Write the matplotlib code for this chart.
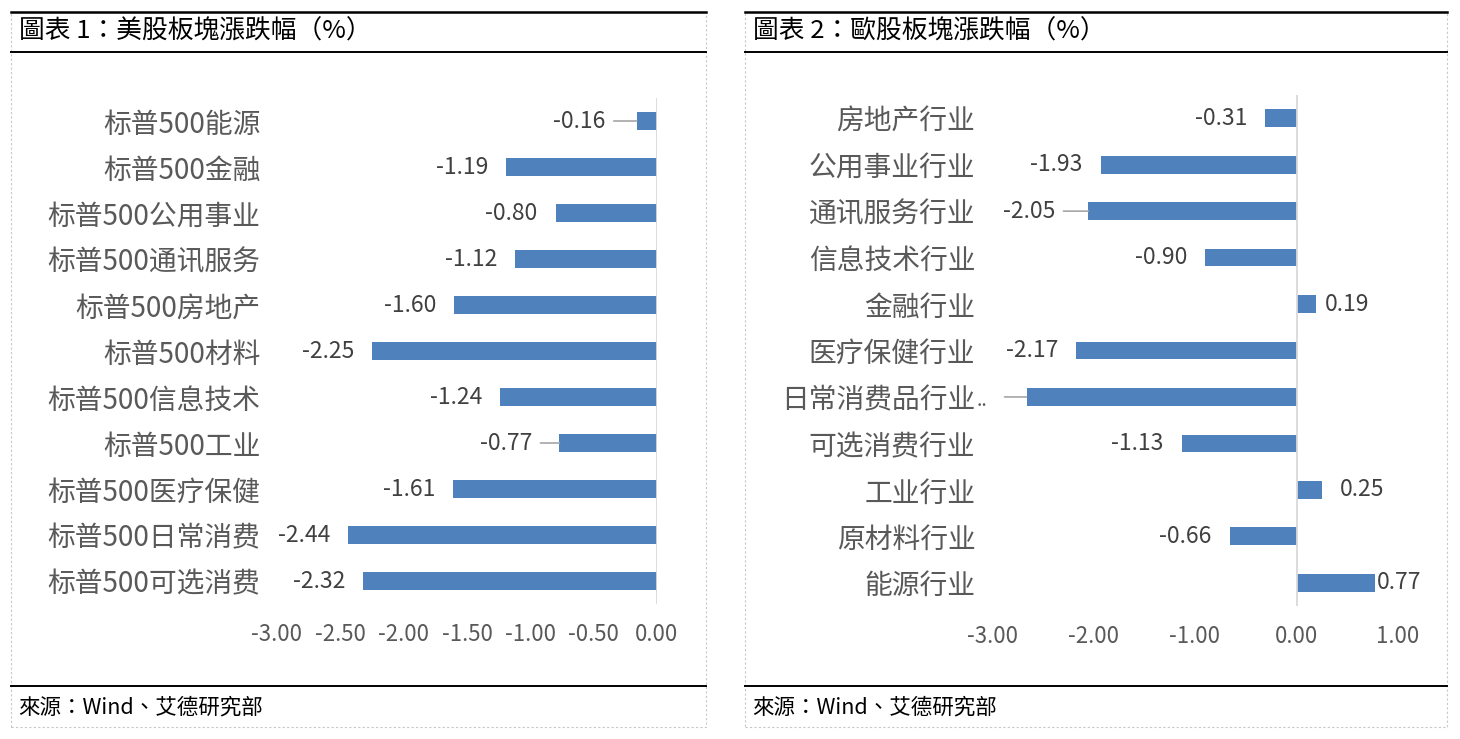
import matplotlib
matplotlib.use('Agg')
import matplotlib.pyplot as plt
from matplotlib.patches import Rectangle
from matplotlib.lines import Line2D

plt.rcParams['font.family'] = ['Noto Sans CJK SC', 'DejaVu Sans']

# data
us_cats = ['标普500能源', '标普500金融', '标普500公用事业', '标普500通讯服务', '标普500房地产',
           '标普500材料', '标普500信息技术', '标普500工业', '标普500医疗保健', '标普500日常消费',
           '标普500可选消费']
us_vals = [-0.16, -1.19, -0.80, -1.12, -1.60, -2.25, -1.24, -0.77, -1.61, -2.44, -2.32]
us_ticks = [-3.0, -2.5, -2.0, -1.5, -1.0, -0.5, 0.0]

eu_cats = ['房地产行业', '公用事业行业', '通讯服务行业', '信息技术行业', '金融行业', '医疗保健行业',
           '日常消费品行业', '可选消费行业', '工业行业', '原材料行业', '能源行业']
eu_vals = [-0.31, -1.93, -2.05, -0.90, 0.19, -2.17, -2.66, -1.13, 0.25, -0.66, 0.77]
eu_ticks = [-3.0, -2.0, -1.0, 0.0, 1.0]

titles = ['圖表 1：美股板塊漲跌幅（%）', '圖表 2：歐股板塊漲跌幅（%）']
source = '來源：Wind、艾德研究部'

W, H = 1460, 739
BAR = '#4f81bd'
fig = plt.figure(figsize=(W / 100, H / 100), dpi=100)


def fx(px):
    return px / W


def fy(py):
    return 1 - py / H


def panel_frame(x0, x1, title):
    # dashed outer border
    fig.add_artist(Rectangle((fx(x0), fy(727)), fx(x1 - x0), (727 - 12) / H,
                             transform=fig.transFigure, fill=False,
                             edgecolor='#c8c8c8', linestyle=(0, (2, 2)), linewidth=0.8))
    # solid rules
    for y, lw in [(12, 1.8), (52, 1.4), (686, 1.4)]:
        fig.add_artist(Line2D([fx(x0), fx(x1)], [fy(y), fy(y)], transform=fig.transFigure,
                              color='black', linewidth=lw))
    fig.text(fx(x0 + 8), fy(32), title, fontsize=18.5, family=['Noto Sans CJK TC', 'DejaVu Sans'],
             va='center', ha='left', color='black')
    fig.text(fx(x0 + 7), fy(707), source, fontsize=15.5, family=['Noto Sans CJK TC', 'DejaVu Sans'],
             va='center', ha='left', color='black')


def bar_panel(box, cats, vals, ticks, xlim, gaps, leaders, hidden, height):
    left, top, right, bottom = box
    ax = fig.add_axes([fx(left), fy(bottom), fx(right - left), (bottom - top) / H])
    y = list(range(len(cats)))
    ax.barh(y, vals, height=height, color=BAR, zorder=2)
    ax.set_ylim(len(cats) - 0.5, -0.5)
    ax.set_xlim(*xlim)
    ax.axvline(0, color='#d9d9d9', linewidth=1.3, zorder=3)
    for s in ax.spines.values():
        s.set_visible(False)
    ax.set_yticks(y)
    ax.set_yticklabels(cats, fontsize=20, color='#595959')
    ax.set_xticks(ticks)
    ax.set_xticklabels([f'{t:.2f}' for t in ticks], fontsize=16, color='#595959')
    ax.tick_params(axis='y', length=0, pad=12)
    ax.tick_params(axis='x', length=0, pad=14)
    for i, v in enumerate(vals):
        gap = gaps.get(i, 18)
        if i in leaders:
            sign = -1 if v < 0 else 1
            ax.annotate('', xy=(v, i), xytext=(sign * (gap - 8), 0), textcoords='offset pixels',
                        arrowprops=dict(arrowstyle='-', color='#a6a6a6', lw=1.2,
                                        shrinkA=0, shrinkB=0))
        if i in hidden:
            continue
        if v < 0:
            ax.annotate(f'{v:.2f}', xy=(v, i), xytext=(-gap, 0), textcoords='offset pixels',
                        ha='right', va='center', fontsize=16.5, color='#404040')
        else:
            ax.annotate(f'{v:.2f}', xy=(v, i), xytext=(gap, 0), textcoords='offset pixels',
                        ha='left', va='center', fontsize=16.5, color='#404040')
    return ax


panel_frame(11, 706, titles[0])
panel_frame(745, 1447, titles[1])

bar_panel((277, 98, 657, 604), us_cats, us_vals, us_ticks, (-3, 0),
          gaps={0: 31, 7: 27}, leaders={0, 7}, hidden=set(), height=0.39)

ax2 = bar_panel((992, 95, 1398, 606), eu_cats, eu_vals, eu_ticks, (-3, 1),
                gaps={2: 33, 4: 9, 6: 30, 8: 18, 10: 2}, leaders={2, 6}, hidden={6}, height=0.38)
# the truncated category label in the source chart
lbl = ax2.get_yticklabels()[6]
ax2.annotate('..', xy=(1, 0.5), xycoords=lbl, xytext=(1, 0), textcoords='offset pixels',
             ha='left', va='center', fontsize=14, color='#595959')

fig.savefig('out.png', dpi=100, facecolor='white')
